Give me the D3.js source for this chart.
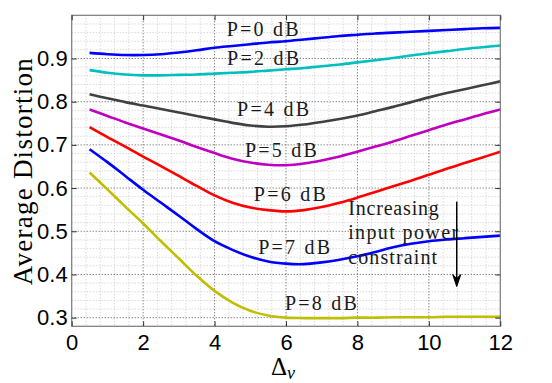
<!DOCTYPE html>
<html><head><meta charset="utf-8">
<script src="https://cdn.jsdelivr.net/npm/d3@7"></script>
<style>html,body{margin:0;padding:0;background:#fff;}</style>
</head><body>
<script>
// ---- data ----
const deltaV = [0.5,1,1.5,2,2.5,3,3.5,4,4.5,5,5.5,6,6.5,7,7.5,8,8.5,9,9.5,10,10.5,11,11.5,12];
const p0 = [0.913,0.910,0.908,0.908,0.910,0.914,0.919,0.925,0.929,0.933,0.937,0.940,0.944,0.948,0.952,0.955,0.958,0.960,0.962,0.964,0.966,0.968,0.970,0.971];
const p2 = [0.873,0.867,0.863,0.861,0.861,0.862,0.863,0.865,0.867,0.869,0.872,0.875,0.878,0.882,0.886,0.891,0.896,0.901,0.907,0.912,0.917,0.922,0.926,0.930];
const p4 = [0.817,0.808,0.799,0.791,0.783,0.775,0.767,0.759,0.751,0.745,0.742,0.743,0.747,0.753,0.760,0.768,0.778,0.788,0.799,0.810,0.820,0.829,0.838,0.847];
const p5 = [0.782,0.767,0.752,0.738,0.724,0.710,0.695,0.681,0.668,0.659,0.654,0.653,0.657,0.664,0.673,0.684,0.696,0.708,0.721,0.734,0.747,0.759,0.771,0.782];
const p6 = [0.741,0.718,0.696,0.673,0.651,0.628,0.605,0.583,0.566,0.555,0.549,0.546,0.549,0.556,0.566,0.578,0.591,0.604,0.617,0.631,0.645,0.658,0.671,0.684];
const p7 = [0.690,0.660,0.628,0.596,0.566,0.536,0.505,0.477,0.457,0.441,0.430,0.425,0.424,0.428,0.434,0.442,0.452,0.463,0.471,0.477,0.481,0.484,0.487,0.490];
const p8 = [0.636,0.597,0.557,0.518,0.477,0.437,0.397,0.362,0.335,0.316,0.305,0.300,0.299,0.299,0.299,0.300,0.300,0.301,0.301,0.301,0.302,0.302,0.302,0.302];
const seriesNames = ["P=0 dB","P=2 dB","P=4 dB","P=5 dB","P=6 dB","P=7 dB","P=8 dB"];
const seriesColors = ["#0000ff","#00bfbf","#404040","#bf00bf","#ff0000","#0000ff","#bfbf00"];
const labelX = [4.34,4.35,4.63,4.85,5.10,5.22,5.97];
const labelY = [0.952,0.885,0.767,0.673,0.571,0.447,0.318];
const xTicks = [0,2,4,6,8,10,12];
const yTicks = [0.3,0.4,0.5,0.6,0.7,0.8,0.9];
const annotLines = ["Increasing","input power","constraint"];

// ---- layout ----
const W = 552, H = 383;
const L = 71.7, R = 500.3, T = 15.3, B = 326.3;
const x = d3.scaleLinear().domain([0,12]).range([L,R]);
const y = d3.scaleLinear().domain([0.28,1.0]).range([B,T]);
const SERIF = "Liberation Serif";
const SANS = "Liberation Sans";

const svg = d3.select("body").append("svg").attr("width",W).attr("height",H)
  .style("background","#fff");

// minor grid
const xMinor = d3.range(0,12.0001,0.4).filter(v=>Math.abs(v/2-Math.round(v/2))>1e-6);
const yMinor = d3.range(0.28,1.0001,0.02).filter(v=>Math.abs(v*10-Math.round(v*10))>1e-6);
const g = svg.append("g");
g.selectAll(".xmin").data(xMinor).join("line")
  .attr("x1",d=>x(d)).attr("x2",d=>x(d)).attr("y1",T).attr("y2",B)
  .attr("stroke","#c8c8c8").attr("stroke-width",1).attr("stroke-dasharray","1,2");
g.selectAll(".ymin").data(yMinor).join("line")
  .attr("y1",d=>y(d)).attr("y2",d=>y(d)).attr("x1",L).attr("x2",R)
  .attr("stroke","#c8c8c8").attr("stroke-width",1).attr("stroke-dasharray","1,2");
// major grid
g.selectAll(".xmaj").data(xTicks.slice(1,-1)).join("line")
  .attr("x1",d=>x(d)).attr("x2",d=>x(d)).attr("y1",T).attr("y2",B)
  .attr("stroke","#555").attr("stroke-width",1).attr("stroke-dasharray","1,2");
g.selectAll(".ymaj").data(yTicks).join("line")
  .attr("y1",d=>y(d)).attr("y2",d=>y(d)).attr("x1",L).attr("x2",R)
  .attr("stroke","#555").attr("stroke-width",1).attr("stroke-dasharray","1,2");

// curves
const allSeries = [p0,p2,p4,p5,p6,p7,p8];
const line = d3.line().x((d,i)=>x(deltaV[i])).y(d=>y(d)).curve(d3.curveCatmullRom.alpha(0.5));
svg.selectAll(".curve").data(allSeries).join("path")
  .attr("d",d=>line(d)).attr("fill","none")
  .attr("stroke",(d,i)=>seriesColors[i]).attr("stroke-width",2.6);

// box
svg.append("rect").attr("x",L).attr("y",T).attr("width",R-L).attr("height",B-T)
  .attr("fill","none").attr("stroke","#7a7a7a").attr("stroke-width",1.2);

// axes (ticks inward)
const xAxisB = d3.axisBottom(x).tickValues(xTicks).tickSize(-5).tickPadding(8).tickFormat(d3.format("d"));
const yAxisL = d3.axisLeft(y).tickValues(yTicks).tickSize(-5).tickPadding(4).tickFormat(d3.format(".1f"));
const ax = svg.append("g").attr("transform",`translate(0,${B})`).call(xAxisB);
const ay = svg.append("g").attr("transform",`translate(${L},0)`).call(yAxisL);
const axT = svg.append("g").attr("transform",`translate(0,${T})`).call(d3.axisTop(x).tickValues(xTicks).tickSize(-5).tickFormat(""));
const ayR = svg.append("g").attr("transform",`translate(${R},0)`).call(d3.axisRight(y).tickValues(yTicks).tickSize(-5).tickFormat(""));
[ax,ay,axT,ayR].forEach(a=>{
  a.attr("font-family",null).attr("font-size",null);
  a.select(".domain").remove();
  a.selectAll(".tick line").attr("stroke","#333");
  a.selectAll("text").style("font-family",SANS)
    .style("font-size","22px").attr("fill","#000");
});
ax.selectAll("text").attr("dy","0.71em");

// curve labels
svg.selectAll(".plabel").data(seriesNames).join("text")
  .attr("x",(d,i)=>x(labelX[i])).attr("y",(d,i)=>y(labelY[i]))
  .style("font-family",SERIF)
  .style("font-size","20px").attr("fill","#1a1a1a")
  .attr("textLength",72).attr("lengthAdjust","spacing")
  .text(d=>d);

// annotation
const annX = 7.74, annY = [0.538,0.4815,0.424], annW = [90.7,110,89];
svg.selectAll(".ann").data(annotLines).join("text")
  .attr("x",x(annX)).attr("y",(d,i)=>y(annY[i]))
  .style("font-family",SERIF)
  .style("font-size","20px").attr("fill","#1a1a1a")
  .attr("textLength",(d,i)=>annW[i]).attr("lengthAdjust","spacing")
  .text(d=>d);

// arrow
const arX = 10.78, arY0 = 0.5685, arY1 = 0.372;
svg.append("line").attr("x1",x(arX)).attr("x2",x(arX)).attr("y1",y(arY0)).attr("y2",y(arY1)-4)
  .attr("stroke","#000").attr("stroke-width",1.5);
svg.append("path")
  .attr("d",`M${x(arX)},${y(arY1)} L${x(arX)-4},${y(arY1)-12} L${x(arX)},${y(arY1)-8} L${x(arX)+4},${y(arY1)-12} Z`)
  .attr("fill","#000").attr("stroke","#000").attr("stroke-width",1);

// axis labels
const xl = svg.append("text").attr("x",(L+R)/2-3).attr("y",375)
  .attr("text-anchor","middle")
  .style("font-family",SERIF)
  .style("font-size","25px").attr("fill","#000");
xl.append("tspan").text("Δ");
xl.append("tspan").style("font-style","italic").style("font-size","18px").attr("dy",4).text("v");

svg.append("text").attr("transform",`translate(32,171.8) rotate(-90)`)
  .attr("text-anchor","middle")
  .style("font-family",SERIF)
  .style("font-size","27px").attr("fill","#000")
  .attr("textLength",227).attr("lengthAdjust","spacing")
  .text("Average Distortion");
</script>
</body></html>
